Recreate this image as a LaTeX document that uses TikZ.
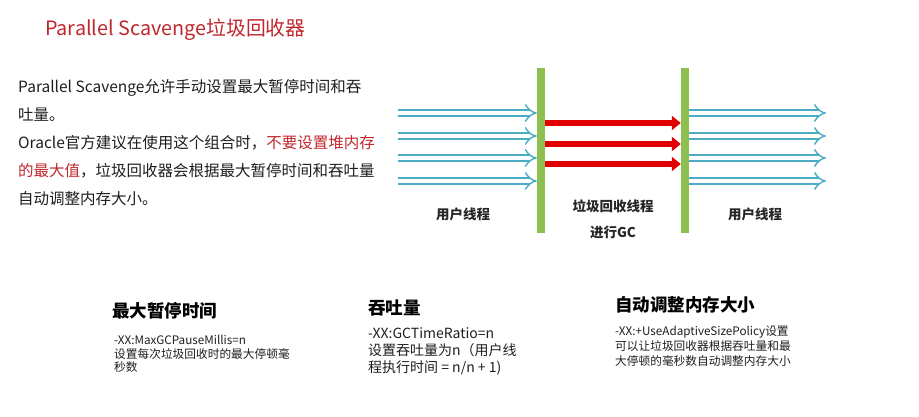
\documentclass[tikz,border=0pt]{standalone}
\usepackage{fontspec}
\setmainfont{Noto Sans CJK SC}
\usetikzlibrary{arrows.meta, positioning}
\definecolor{titlered}{HTML}{C0272D}
\definecolor{gcred}{HTML}{E00000}
\definecolor{bargreen}{HTML}{8DC051}
\definecolor{threadblue}{HTML}{4BACC6}
\definecolor{textgray}{HTML}{1E1E1E}

\begin{document}
\begin{tikzpicture}[
    x=1pt, y=-1pt,
    titletext/.style={anchor=west, inner sep=0pt, text=titlered, font=\fontsize{19.8}{22}\selectfont},
    body/.style={anchor=north west, inner sep=0pt, align=left, text=textgray, font=\fontsize{15.5}{28}\selectfont},
    gcbar/.style={fill=bargreen, minimum width=8pt, minimum height=165pt, inner sep=0pt},
    userarrow/.style={draw=threadblue, line width=1.4pt, double=white, double distance=4.8pt, -{Implies[scale=1.25]}},
    gcarrow/.style={draw=gcred, line width=5.5pt, -{Triangle[length=9pt, width=14pt]}},
    threadlabel/.style={inner sep=0pt, text=black!85, font=\bfseries\fontsize{13.5}{16}\selectfont},
    headtext/.style={anchor=west, inner sep=0pt, font=\bfseries\fontsize{17.5}{20}\selectfont},
    desc/.style={anchor=north west, inner sep=0pt, align=left, text=textgray}
]
    \useasboundingbox (0,0) rectangle (919,417);

    % 标题与说明
    \node[titletext] (title) at (45,30) {Parallel Scavenge垃圾回收器};
    \node[body] (intro) at (18,79) {Parallel Scavenge允许手动设置最大暂停时间和吞\\吐量。\\Oracle官方建议在使用这个组合时，\textcolor{titlered}{不要设置堆内存}\\\textcolor{titlered}{的最大值}，垃圾回收器会根据最大暂停时间和吞吐量\\自动调整内存大小。};

    % 暂停线
    \node[gcbar] (barA) at (541,150.5) {};
    \node[gcbar] (barB) at (685,150.5) {};

    % 用户线程
    \foreach \y [count=\i] in {113,136,158,181} {
        \coordinate (in\i) at (398,\y);
        \coordinate (out\i) at (826,\y);
        \draw[userarrow] (in\i) -- (in\i -| barA.west);
        \draw[userarrow] (out\i -| barB.east) -- (out\i);
    }

    % GC线程
    \foreach \y [count=\i] in {123,144,164} {
        \coordinate (gc\i) at (600,\y);
        \draw[gcarrow] (gc\i -| barA.east) -- (gc\i -| barB.west);
    }

    \node[threadlabel] (userL) at (463,214) {用户线程};
    \node[threadlabel] (gcL) at (613,206) {垃圾回收线程};
    \node[threadlabel] (gcL2) at (613,232) {进行GC};
    \node[threadlabel] (userR) at (755,214) {用户线程};

    % 参数
    \node[headtext] (maxPause) at (112,311) {最大暂停时间};
    \node[desc, font=\fontsize{11.7}{13.5}\selectfont] (maxPauseDesc) at (114,335) {-XX:MaxGCPauseMillis=n\\设置每次垃圾回收时的最大停顿毫\\秒数};
    \node[headtext] (ratio) at (368,308) {吞吐量};
    \node[desc, font=\fontsize{14}{17}\selectfont] (ratioDesc) at (368,327) {-XX:GCTimeRatio=n\\设置吞吐量为n（用户线\\程执行时间 = n/n + 1)};
    \node[headtext] (autoSize) at (615,305) {自动调整内存大小};
    \node[desc, font=\fontsize{11.7}{15}\selectfont] (autoSizeDesc) at (615,326) {-XX:+UseAdaptiveSizePolicy设置\\可以让垃圾回收器根据吞吐量和最\\大停顿的毫秒数自动调整内存大小};
\end{tikzpicture}
\end{document}
